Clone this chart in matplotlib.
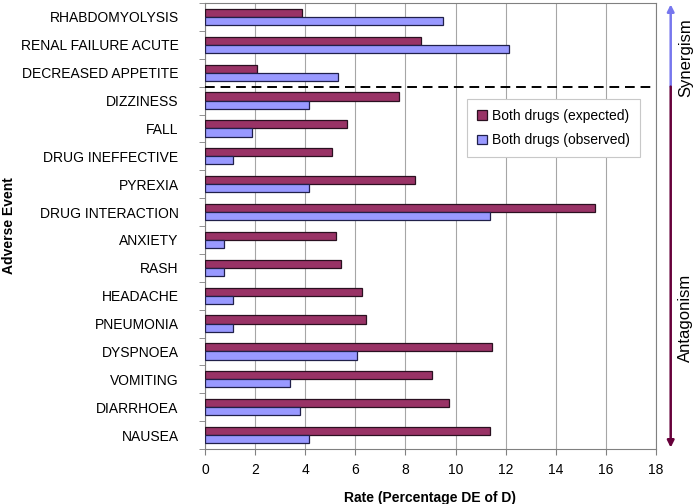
import matplotlib.pyplot as plt
import matplotlib.transforms as mtransforms
import numpy as np

plt.rcParams['font.family'] = ['Liberation Sans', 'DejaVu Sans']

# data (top to bottom)
events = ['RHABDOMYOLYSIS', 'RENAL FAILURE ACUTE', 'DECREASED APPETITE', 'DIZZINESS',
          'FALL', 'DRUG INEFFECTIVE', 'PYREXIA', 'DRUG INTERACTION', 'ANXIETY', 'RASH',
          'HEADACHE', 'PNEUMONIA', 'DYSPNOEA', 'VOMITING', 'DIARRHOEA', 'NAUSEA']
expected = [3.86, 8.63, 2.09, 7.73, 5.68, 5.08, 8.37, 15.56, 5.23, 5.43,
            6.25, 6.44, 11.47, 9.07, 9.74, 11.36]
observed = [9.48, 12.12, 5.32, 4.16, 1.89, 1.10, 4.16, 11.37, 0.76, 0.76,
            1.12, 1.12, 6.08, 3.40, 3.80, 4.16]
xticks = [0, 2, 4, 6, 8, 10, 12, 14, 16, 18]
n_synergy = 3

col_exp = '#993366'
col_obs = '#9999ff'

fig = plt.figure(figsize=(6.95, 5.04), dpi=100)
ax = fig.add_axes([205 / 695, 1 - 449 / 504, 451 / 695, 446 / 504])

y = np.arange(len(events))
h = 0.29
ax.barh(y - h / 2, expected, height=h, color=col_exp, edgecolor='#2a1020', linewidth=0.9,
        label='Both drugs (expected)', zorder=3)
ax.barh(y + h / 2, observed, height=h, color=col_obs, edgecolor='#20204a', linewidth=0.9,
        label='Both drugs (observed)', zorder=3)

ax.set_xlim(0, 18)
ax.set_ylim(len(events) - 0.5, -0.5)
ax.set_xticks(xticks)
ax.set_yticks(y)
ax.set_yticklabels(events, fontsize=10)
ax.set_yticks(np.arange(len(events) + 1) - 0.5, minor=True)
ax.tick_params(axis='y', which='major', length=0, pad=19)
ax.tick_params(axis='y', which='minor', length=4, color='#808080')
ax.tick_params(axis='x', length=4, color='#808080', labelsize=10, pad=6)
ax.grid(axis='x', color='#a6a6a6', linewidth=0.8, zorder=0)
for s in ax.spines.values():
    s.set_color('#808080')

# separator between synergism and antagonism
ax.axhline(n_synergy - 0.5, color='black', linestyle=(0, (5, 3)), linewidth=1.4, zorder=4)

ax.set_xlabel('Rate (Percentage DE of D)', fontsize=10, weight='bold', labelpad=10)
ax.set_ylabel('Adverse Event', fontsize=10, weight='bold')
ax.yaxis.set_label_coords(-0.418, 0.5)

leg = ax.legend(loc='upper left', bbox_to_anchor=(0.566, 0.80), fontsize=10,
                fancybox=False, framealpha=1, edgecolor='#c8c8c8',
                handlelength=0.7, handleheight=0.7, handletextpad=0.4,
                borderpad=0.7, labelspacing=0.75)
leg.get_frame().set_linewidth(0.8)

# side arrows
trans = mtransforms.blended_transform_factory(ax.transAxes, ax.transData)
xa = 1.0326
ax.annotate('', xy=(xa, -0.45), xytext=(xa, n_synergy - 0.5), xycoords=trans,
            textcoords=trans, annotation_clip=False,
            arrowprops=dict(arrowstyle='-|>', color='#7777ee', lw=1.8,
                            mutation_scale=10, shrinkA=0, shrinkB=0))
ax.annotate('', xy=(xa, len(events) - 0.55), xytext=(xa, n_synergy - 0.5), xycoords=trans,
            textcoords=trans, annotation_clip=False,
            arrowprops=dict(arrowstyle='-|>', color='#66003a', lw=1.8,
                            mutation_scale=10, shrinkA=0, shrinkB=0))
ax.text(1.066, 1.46, 'Synergism', transform=trans, rotation=90, fontsize=12,
        ha='center', va='center')
ax.text(1.066, 10.8, 'Antagonism', transform=trans, rotation=90, fontsize=12,
        ha='center', va='center')

fig.savefig('out.png', dpi=100)
